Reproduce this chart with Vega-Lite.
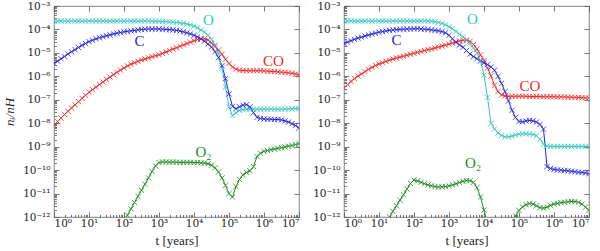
{
  "$schema": "https://vega.github.io/schema/vega-lite/v6.json",
  "background": "white",
  "padding": {"left": 2, "top": 0, "right": 0, "bottom": 0},
  "autosize": {"type": "pad"},
  "spacing": 7,
  "config": {
    "view": {"stroke": "#999999", "strokeWidth": 1.2},
    "font": "Liberation Serif",
    "axis": {"domain": false, "grid": false, "tickColor": "#555555", "tickWidth": 0.8, "labelFont": "DejaVu Serif", "labelFontSize": 10.5, "labelColor": "#222222", "titleFont": "Liberation Serif", "titleFontSize": 13, "titleFontWeight": "normal", "titleColor": "#222222"}
  },
  "datasets": {
    "curves": [
      {"p":"a","t":0.0,"O":-3.64,"C":-5.45,"CO":-8.09,"O2":-13},
      {"p":"a","t":0.1,"O":-3.64,"C":-5.35,"CO":-7.93,"O2":-13},
      {"p":"a","t":0.2,"O":-3.64,"C":-5.25,"CO":-7.78,"O2":-13},
      {"p":"a","t":0.3,"O":-3.64,"C":-5.15,"CO":-7.63,"O2":-13},
      {"p":"a","t":0.4,"O":-3.64,"C":-5.05,"CO":-7.49,"O2":-13},
      {"p":"a","t":0.5,"O":-3.64,"C":-4.95,"CO":-7.35,"O2":-13},
      {"p":"a","t":0.6,"O":-3.64,"C":-4.86,"CO":-7.22,"O2":-13},
      {"p":"a","t":0.7,"O":-3.64,"C":-4.77,"CO":-7.08,"O2":-13},
      {"p":"a","t":0.8,"O":-3.64,"C":-4.68,"CO":-6.94,"O2":-13},
      {"p":"a","t":0.9,"O":-3.64,"C":-4.60,"CO":-6.81,"O2":-13},
      {"p":"a","t":1.0,"O":-3.64,"C":-4.52,"CO":-6.68,"O2":-13},
      {"p":"a","t":1.1,"O":-3.64,"C":-4.46,"CO":-6.57,"O2":-13},
      {"p":"a","t":1.2,"O":-3.64,"C":-4.40,"CO":-6.46,"O2":-13},
      {"p":"a","t":1.3,"O":-3.64,"C":-4.35,"CO":-6.35,"O2":-13},
      {"p":"a","t":1.4,"O":-3.64,"C":-4.31,"CO":-6.24,"O2":-13},
      {"p":"a","t":1.5,"O":-3.64,"C":-4.27,"CO":-6.13,"O2":-13},
      {"p":"a","t":1.6,"O":-3.64,"C":-4.23,"CO":-6.03,"O2":-13},
      {"p":"a","t":1.7,"O":-3.64,"C":-4.19,"CO":-5.93,"O2":-13},
      {"p":"a","t":1.8,"O":-3.64,"C":-4.16,"CO":-5.83,"O2":-12.7},
      {"p":"a","t":1.9,"O":-3.64,"C":-4.13,"CO":-5.73,"O2":-12.45},
      {"p":"a","t":2.0,"O":-3.64,"C":-4.10,"CO":-5.64,"O2":-12.2},
      {"p":"a","t":2.1,"O":-3.64,"C":-4.08,"CO":-5.56,"O2":-11.92},
      {"p":"a","t":2.2,"O":-3.64,"C":-4.06,"CO":-5.48,"O2":-11.65},
      {"p":"a","t":2.3,"O":-3.64,"C":-4.04,"CO":-5.42,"O2":-11.38},
      {"p":"a","t":2.4,"O":-3.64,"C":-4.02,"CO":-5.36,"O2":-11.12},
      {"p":"a","t":2.5,"O":-3.64,"C":-4.00,"CO":-5.30,"O2":-10.86},
      {"p":"a","t":2.6,"O":-3.64,"C":-3.99,"CO":-5.26,"O2":-10.6},
      {"p":"a","t":2.7,"O":-3.64,"C":-3.98,"CO":-5.21,"O2":-10.33},
      {"p":"a","t":2.8,"O":-3.65,"C":-3.98,"CO":-5.16,"O2":-10.06},
      {"p":"a","t":2.9,"O":-3.65,"C":-3.98,"CO":-5.12,"O2":-9.82},
      {"p":"a","t":3.0,"O":-3.65,"C":-3.98,"CO":-5.08,"O2":-9.68},
      {"p":"a","t":3.1,"O":-3.66,"C":-3.99,"CO":-5.02,"O2":-9.65},
      {"p":"a","t":3.2,"O":-3.67,"C":-4.00,"CO":-4.96,"O2":-9.65},
      {"p":"a","t":3.3,"O":-3.68,"C":-4.01,"CO":-4.90,"O2":-9.66},
      {"p":"a","t":3.4,"O":-3.69,"C":-4.02,"CO":-4.84,"O2":-9.66},
      {"p":"a","t":3.5,"O":-3.70,"C":-4.04,"CO":-4.78,"O2":-9.66},
      {"p":"a","t":3.6,"O":-3.72,"C":-4.07,"CO":-4.72,"O2":-9.67},
      {"p":"a","t":3.7,"O":-3.74,"C":-4.10,"CO":-4.66,"O2":-9.67},
      {"p":"a","t":3.8,"O":-3.77,"C":-4.14,"CO":-4.60,"O2":-9.67},
      {"p":"a","t":3.9,"O":-3.81,"C":-4.19,"CO":-4.54,"O2":-9.67},
      {"p":"a","t":4.0,"O":-3.86,"C":-4.25,"CO":-4.48,"O2":-9.68},
      {"p":"a","t":4.1,"O":-3.93,"C":-4.32,"CO":-4.43,"O2":-9.68},
      {"p":"a","t":4.2,"O":-4.02,"C":-4.40,"CO":-4.40,"O2":-9.69},
      {"p":"a","t":4.3,"O":-4.12,"C":-4.50,"CO":-4.40,"O2":-9.70},
      {"p":"a","t":4.4,"O":-4.25,"C":-4.62,"CO":-4.45,"O2":-9.73},
      {"p":"a","t":4.5,"O":-4.42,"C":-4.75,"CO":-4.58,"O2":-9.79},
      {"p":"a","t":4.6,"O":-4.65,"C":-4.95,"CO":-4.72,"O2":-9.90},
      {"p":"a","t":4.7,"O":-5.00,"C":-5.20,"CO":-4.88,"O2":-10.08},
      {"p":"a","t":4.8,"O":-5.65,"C":-5.55,"CO":-5.06,"O2":-10.33},
      {"p":"a","t":4.9,"O":-6.45,"C":-6.10,"CO":-5.27,"O2":-10.65},
      {"p":"a","t":5.0,"O":-7.30,"C":-6.75,"CO":-5.45,"O2":-11.0},
      {"p":"a","t":5.1,"O":-7.68,"C":-7.28,"CO":-5.60,"O2":-11.15},
      {"p":"a","t":5.2,"O":-7.55,"C":-7.38,"CO":-5.70,"O2":-10.7},
      {"p":"a","t":5.3,"O":-7.45,"C":-7.30,"CO":-5.74,"O2":-10.4},
      {"p":"a","t":5.4,"O":-7.42,"C":-7.23,"CO":-5.75,"O2":-10.2},
      {"p":"a","t":5.5,"O":-7.40,"C":-7.21,"CO":-5.76,"O2":-10.1},
      {"p":"a","t":5.6,"O":-7.40,"C":-7.30,"CO":-5.76,"O2":-10.03},
      {"p":"a","t":5.7,"O":-7.40,"C":-7.55,"CO":-5.76,"O2":-9.85},
      {"p":"a","t":5.8,"O":-7.40,"C":-7.75,"CO":-5.76,"O2":-9.42},
      {"p":"a","t":5.9,"O":-7.40,"C":-7.80,"CO":-5.76,"O2":-9.28},
      {"p":"a","t":6.0,"O":-7.40,"C":-7.82,"CO":-5.77,"O2":-9.2},
      {"p":"a","t":6.1,"O":-7.40,"C":-7.83,"CO":-5.78,"O2":-9.16},
      {"p":"a","t":6.2,"O":-7.40,"C":-7.83,"CO":-5.79,"O2":-9.13},
      {"p":"a","t":6.3,"O":-7.40,"C":-7.84,"CO":-5.80,"O2":-9.1},
      {"p":"a","t":6.4,"O":-7.40,"C":-7.84,"CO":-5.81,"O2":-9.07},
      {"p":"a","t":6.5,"O":-7.40,"C":-7.86,"CO":-5.82,"O2":-9.04},
      {"p":"a","t":6.6,"O":-7.40,"C":-7.90,"CO":-5.83,"O2":-9.01},
      {"p":"a","t":6.7,"O":-7.39,"C":-7.95,"CO":-5.85,"O2":-8.98},
      {"p":"a","t":6.8,"O":-7.39,"C":-8.02,"CO":-5.87,"O2":-8.95},
      {"p":"a","t":6.9,"O":-7.38,"C":-8.10,"CO":-5.90,"O2":-8.91},
      {"p":"a","t":7.0,"O":-7.38,"C":-8.20,"CO":-5.93,"O2":-8.87},
      {"p":"b","t":0.0,"O":-3.64,"C":-4.60,"CO":-6.50,"O2":-13},
      {"p":"b","t":0.1,"O":-3.64,"C":-4.54,"CO":-6.35,"O2":-13},
      {"p":"b","t":0.2,"O":-3.64,"C":-4.48,"CO":-6.22,"O2":-13},
      {"p":"b","t":0.3,"O":-3.64,"C":-4.42,"CO":-6.10,"O2":-13},
      {"p":"b","t":0.4,"O":-3.64,"C":-4.37,"CO":-5.99,"O2":-13},
      {"p":"b","t":0.5,"O":-3.64,"C":-4.33,"CO":-5.90,"O2":-13},
      {"p":"b","t":0.6,"O":-3.64,"C":-4.28,"CO":-5.80,"O2":-13},
      {"p":"b","t":0.7,"O":-3.64,"C":-4.24,"CO":-5.70,"O2":-13},
      {"p":"b","t":0.8,"O":-3.64,"C":-4.20,"CO":-5.62,"O2":-13},
      {"p":"b","t":0.9,"O":-3.64,"C":-4.16,"CO":-5.54,"O2":-13},
      {"p":"b","t":1.0,"O":-3.64,"C":-4.12,"CO":-5.47,"O2":-12.7},
      {"p":"b","t":1.1,"O":-3.64,"C":-4.09,"CO":-5.42,"O2":-12.48},
      {"p":"b","t":1.2,"O":-3.64,"C":-4.06,"CO":-5.36,"O2":-12.24},
      {"p":"b","t":1.3,"O":-3.64,"C":-4.04,"CO":-5.31,"O2":-12.0},
      {"p":"b","t":1.4,"O":-3.64,"C":-4.02,"CO":-5.26,"O2":-11.76},
      {"p":"b","t":1.5,"O":-3.64,"C":-4.01,"CO":-5.22,"O2":-11.52},
      {"p":"b","t":1.6,"O":-3.64,"C":-4.00,"CO":-5.18,"O2":-11.28},
      {"p":"b","t":1.7,"O":-3.64,"C":-3.99,"CO":-5.14,"O2":-11.05},
      {"p":"b","t":1.8,"O":-3.64,"C":-3.98,"CO":-5.10,"O2":-10.8},
      {"p":"b","t":1.9,"O":-3.64,"C":-3.98,"CO":-5.06,"O2":-10.57},
      {"p":"b","t":2.0,"O":-3.64,"C":-3.97,"CO":-5.02,"O2":-10.42},
      {"p":"b","t":2.1,"O":-3.64,"C":-3.97,"CO":-4.98,"O2":-10.46},
      {"p":"b","t":2.2,"O":-3.64,"C":-3.98,"CO":-4.94,"O2":-10.52},
      {"p":"b","t":2.3,"O":-3.64,"C":-3.99,"CO":-4.90,"O2":-10.58},
      {"p":"b","t":2.4,"O":-3.64,"C":-4.00,"CO":-4.86,"O2":-10.63},
      {"p":"b","t":2.5,"O":-3.65,"C":-4.02,"CO":-4.83,"O2":-10.67},
      {"p":"b","t":2.6,"O":-3.67,"C":-4.04,"CO":-4.79,"O2":-10.7},
      {"p":"b","t":2.7,"O":-3.70,"C":-4.06,"CO":-4.75,"O2":-10.72},
      {"p":"b","t":2.8,"O":-3.74,"C":-4.09,"CO":-4.71,"O2":-10.72},
      {"p":"b","t":2.9,"O":-3.80,"C":-4.14,"CO":-4.67,"O2":-10.7},
      {"p":"b","t":3.0,"O":-3.88,"C":-4.25,"CO":-4.63,"O2":-10.67},
      {"p":"b","t":3.1,"O":-3.97,"C":-4.40,"CO":-4.58,"O2":-10.63},
      {"p":"b","t":3.2,"O":-4.08,"C":-4.55,"CO":-4.53,"O2":-10.58},
      {"p":"b","t":3.3,"O":-4.20,"C":-4.66,"CO":-4.49,"O2":-10.53},
      {"p":"b","t":3.4,"O":-4.32,"C":-4.76,"CO":-4.46,"O2":-10.48},
      {"p":"b","t":3.5,"O":-4.45,"C":-4.90,"CO":-4.46,"O2":-10.45},
      {"p":"b","t":3.6,"O":-4.60,"C":-5.05,"CO":-4.51,"O2":-10.45},
      {"p":"b","t":3.7,"O":-4.78,"C":-5.16,"CO":-4.64,"O2":-10.52},
      {"p":"b","t":3.8,"O":-5.00,"C":-5.25,"CO":-4.84,"O2":-10.75},
      {"p":"b","t":3.9,"O":-5.35,"C":-5.34,"CO":-5.08,"O2":-11.15},
      {"p":"b","t":4.0,"O":-5.95,"C":-5.42,"CO":-5.33,"O2":-11.7},
      {"p":"b","t":4.1,"O":-6.90,"C":-5.50,"CO":-5.65,"O2":-12.3},
      {"p":"b","t":4.2,"O":-8.00,"C":-5.60,"CO":-5.98,"O2":-13},
      {"p":"b","t":4.3,"O":-8.25,"C":-5.74,"CO":-6.38,"O2":-13},
      {"p":"b","t":4.4,"O":-8.42,"C":-6.00,"CO":-6.65,"O2":-13},
      {"p":"b","t":4.5,"O":-8.52,"C":-6.30,"CO":-6.80,"O2":-13},
      {"p":"b","t":4.6,"O":-8.58,"C":-6.65,"CO":-6.84,"O2":-13},
      {"p":"b","t":4.7,"O":-8.58,"C":-7.05,"CO":-6.85,"O2":-13},
      {"p":"b","t":4.8,"O":-8.55,"C":-7.45,"CO":-6.85,"O2":-12.25},
      {"p":"b","t":4.9,"O":-8.50,"C":-7.75,"CO":-6.85,"O2":-11.95},
      {"p":"b","t":5.0,"O":-8.47,"C":-7.93,"CO":-6.85,"O2":-11.72},
      {"p":"b","t":5.1,"O":-8.45,"C":-7.94,"CO":-6.85,"O2":-11.57},
      {"p":"b","t":5.2,"O":-8.45,"C":-7.90,"CO":-6.85,"O2":-11.47},
      {"p":"b","t":5.3,"O":-8.46,"C":-7.88,"CO":-6.86,"O2":-11.43},
      {"p":"b","t":5.4,"O":-8.48,"C":-7.90,"CO":-6.86,"O2":-11.45},
      {"p":"b","t":5.5,"O":-8.53,"C":-7.95,"CO":-6.86,"O2":-11.52},
      {"p":"b","t":5.6,"O":-8.68,"C":-8.05,"CO":-6.86,"O2":-11.6},
      {"p":"b","t":5.7,"O":-8.90,"C":-8.25,"CO":-6.87,"O2":-11.62},
      {"p":"b","t":5.8,"O":-8.97,"C":-9.85,"CO":-6.87,"O2":-11.58},
      {"p":"b","t":5.9,"O":-8.99,"C":-9.93,"CO":-6.87,"O2":-11.5},
      {"p":"b","t":6.0,"O":-8.99,"C":-9.97,"CO":-6.87,"O2":-11.45},
      {"p":"b","t":6.1,"O":-8.99,"C":-9.99,"CO":-6.88,"O2":-11.42},
      {"p":"b","t":6.2,"O":-8.99,"C":-10.00,"CO":-6.88,"O2":-11.39},
      {"p":"b","t":6.3,"O":-8.99,"C":-10.02,"CO":-6.88,"O2":-11.37},
      {"p":"b","t":6.4,"O":-8.99,"C":-10.03,"CO":-6.89,"O2":-11.35},
      {"p":"b","t":6.5,"O":-8.99,"C":-10.05,"CO":-6.89,"O2":-11.34},
      {"p":"b","t":6.6,"O":-8.99,"C":-10.07,"CO":-6.90,"O2":-11.34},
      {"p":"b","t":6.7,"O":-8.99,"C":-10.09,"CO":-6.90,"O2":-11.37},
      {"p":"b","t":6.8,"O":-8.99,"C":-10.10,"CO":-6.91,"O2":-11.45},
      {"p":"b","t":6.9,"O":-8.99,"C":-10.12,"CO":-6.92,"O2":-11.58},
      {"p":"b","t":7.0,"O":-8.99,"C":-10.15,"CO":-6.92,"O2":-11.72}
    ],
    "labels": [
      {"p":"a","t":4.41,"v":-3.58,"s":"O","sp":"O"},
      {"p":"a","t":2.44,"v":-4.48,"s":"C","sp":"C"},
      {"p":"a","t":6.27,"v":-5.33,"s":"CO","sp":"CO"},
      {"p":"a","t":4.27,"v":-9.22,"s":"O₂","sp":"O2"},
      {"p":"b","t":3.67,"v":-3.54,"s":"O","sp":"O"},
      {"p":"b","t":1.5,"v":-4.47,"s":"C","sp":"C"},
      {"p":"b","t":5.31,"v":-6.41,"s":"CO","sp":"CO"},
      {"p":"b","t":3.69,"v":-9.69,"s":"O₂","sp":"O2"}
    ]
  },
  "hconcat": [
    {
      "width": 245, "height": 211,
      "layer": [
        {
          "data": {"name": "curves"},
          "transform": [{"filter": "datum.p == 'a'"}, {"fold": ["CO", "C", "O", "O2"], "as": ["sp", "v"]}],
          "mark": {"type": "line", "clip": true, "strokeWidth": 1},
          "encoding": {
            "x": {"field": "t", "type": "quantitative", "scale": {"domain": [0, 7], "nice": false, "zero": false},
                  "axis": {"orient": "bottom", "values": [0,1,2,3,4,5,6,7], "tickSize": -5, "labelPadding": 6, "minExtent": 16, "maxExtent": 16, "title": "t [years]", "titlePadding": 1,
                           "labelExpr": "'10' + ['⁰','¹','²','³','⁴','⁵','⁶','⁷'][datum.value]"}},
            "y": {"field": "v", "type": "quantitative", "scale": {"domain": [-12, -3], "nice": false, "zero": false},
                  "axis": {"orient": "left", "values": [-12,-11,-10,-9,-8,-7,-6,-5,-4,-3], "tickSize": -5, "labelPadding": 9, "minExtent": 36, "maxExtent": 36, "title": "nᵢ/nH", "titleFontStyle": "italic", "titlePadding": 2,
                           "labelExpr": "'10⁻' + ['','','','³','⁴','⁵','⁶','⁷','⁸','⁹','¹⁰','¹¹','¹²'][-datum.value]"}},
            "color": {"field": "sp", "type": "nominal", "scale": {"domain": ["O", "C", "CO", "O2"], "range": ["#33c4c4", "#2323e6", "#f02828", "#1e8c1e"]}, "legend": null}
          }
        },
        {
          "data": {"name": "curves"},
          "transform": [{"filter": "datum.p == 'a'"}, {"fold": ["CO", "C", "O", "O2"], "as": ["sp", "v"]}],
          "mark": {"type": "point", "clip": true, "shape": "M-1,-1L1,1M1,-1L-1,1", "filled": false, "size": 28, "strokeWidth": 0.8, "opacity": 1},
          "encoding": {
            "x": {"field": "t", "type": "quantitative", "axis": {"orient": "top", "values": [0,1,2,3,4,5,6,7], "tickSize": -5, "labels": false, "title": null, "minExtent": 0, "maxExtent": 0}},
            "y": {"field": "v", "type": "quantitative", "axis": {"orient": "right", "values": [-12,-11,-10,-9,-8,-7,-6,-5,-4,-3], "tickSize": -5, "labels": false, "title": null, "minExtent": 0, "maxExtent": 0}},
            "color": {"field": "sp", "type": "nominal", "legend": null}
          }
        },
        {
          "data": {"name": "labels"},
          "transform": [{"filter": "datum.p == 'a'"}],
          "mark": {"type": "text", "fontSize": 15, "font": "Liberation Serif", "align": "center", "baseline": "middle"},
          "encoding": {
            "x": {"field": "t", "type": "quantitative", "axis": {"orient": "bottom", "values": [0.30103,0.47712,0.60206,0.69897,0.77815,0.8451,0.90309,0.95424,1.30103,1.47712,1.60206,1.69897,1.77815,1.8451,1.90309,1.95424,2.30103,2.47712,2.60206,2.69897,2.77815,2.8451,2.90309,2.95424,3.30103,3.47712,3.60206,3.69897,3.77815,3.8451,3.90309,3.95424,4.30103,4.47712,4.60206,4.69897,4.77815,4.8451,4.90309,4.95424,5.30103,5.47712,5.60206,5.69897,5.77815,5.8451,5.90309,5.95424,6.30103,6.47712,6.60206,6.69897,6.77815,6.8451,6.90309,6.95424], "tickSize": -2.5, "labels": false, "title": null, "minExtent": 0, "maxExtent": 0}},
            "y": {"field": "v", "type": "quantitative", "axis": {"orient": "left", "values": [-11.69897,-11.52288,-11.39794,-11.30103,-11.22185,-11.1549,-11.09691,-11.04576,-10.69897,-10.52288,-10.39794,-10.30103,-10.22185,-10.1549,-10.09691,-10.04576,-9.69897,-9.52288,-9.39794,-9.30103,-9.22185,-9.1549,-9.09691,-9.04576,-8.69897,-8.52288,-8.39794,-8.30103,-8.22185,-8.1549,-8.09691,-8.04576,-7.69897,-7.52288,-7.39794,-7.30103,-7.22185,-7.1549,-7.09691,-7.04576,-6.69897,-6.52288,-6.39794,-6.30103,-6.22185,-6.1549,-6.09691,-6.04576,-5.69897,-5.52288,-5.39794,-5.30103,-5.22185,-5.1549,-5.09691,-5.04576,-4.69897,-4.52288,-4.39794,-4.30103,-4.22185,-4.1549,-4.09691,-4.04576,-3.69897,-3.52288,-3.39794,-3.30103,-3.22185,-3.1549,-3.09691,-3.04576], "tickSize": -2.5, "labels": false, "title": null, "minExtent": 0, "maxExtent": 0}},
            "text": {"field": "s"},
            "color": {"field": "sp", "type": "nominal", "legend": null}
          }
        }
      ],
      "resolve": {"axis": {"x": "independent", "y": "independent"}}
    },
    {
      "width": 245, "height": 211,
      "layer": [
        {
          "data": {"name": "curves"},
          "transform": [{"filter": "datum.p == 'b'"}, {"fold": ["CO", "C", "O", "O2"], "as": ["sp", "v"]}],
          "mark": {"type": "line", "clip": true, "strokeWidth": 1},
          "encoding": {
            "x": {"field": "t", "type": "quantitative", "scale": {"domain": [0, 7], "nice": false, "zero": false},
                  "axis": {"orient": "bottom", "values": [0,1,2,3,4,5,6,7], "tickSize": -5, "labelPadding": 6, "minExtent": 16, "maxExtent": 16, "title": "t [years]", "titlePadding": 1,
                           "labelExpr": "'10' + ['⁰','¹','²','³','⁴','⁵','⁶','⁷'][datum.value]"}},
            "y": {"field": "v", "type": "quantitative", "scale": {"domain": [-12, -3], "nice": false, "zero": false},
                  "axis": {"orient": "left", "values": [-12,-11,-10,-9,-8,-7,-6,-5,-4,-3], "tickSize": -5, "labelPadding": 9, "minExtent": 36, "maxExtent": 36, "title": null,
                           "labelExpr": "'10⁻' + ['','','','³','⁴','⁵','⁶','⁷','⁸','⁹','¹⁰','¹¹','¹²'][-datum.value]"}},
            "color": {"field": "sp", "type": "nominal", "scale": {"domain": ["O", "C", "CO", "O2"], "range": ["#33c4c4", "#2323e6", "#f02828", "#1e8c1e"]}, "legend": null}
          }
        },
        {
          "data": {"name": "curves"},
          "transform": [{"filter": "datum.p == 'b'"}, {"fold": ["CO", "C", "O", "O2"], "as": ["sp", "v"]}],
          "mark": {"type": "point", "clip": true, "shape": "M-1,-1L1,1M1,-1L-1,1", "filled": false, "size": 28, "strokeWidth": 0.8, "opacity": 1},
          "encoding": {
            "x": {"field": "t", "type": "quantitative", "axis": {"orient": "top", "values": [0,1,2,3,4,5,6,7], "tickSize": -5, "labels": false, "title": null, "minExtent": 0, "maxExtent": 0}},
            "y": {"field": "v", "type": "quantitative", "axis": {"orient": "right", "values": [-12,-11,-10,-9,-8,-7,-6,-5,-4,-3], "tickSize": -5, "labels": false, "title": null, "minExtent": 0, "maxExtent": 0}},
            "color": {"field": "sp", "type": "nominal", "legend": null}
          }
        },
        {
          "data": {"name": "labels"},
          "transform": [{"filter": "datum.p == 'b'"}],
          "mark": {"type": "text", "fontSize": 15, "font": "Liberation Serif", "align": "center", "baseline": "middle"},
          "encoding": {
            "x": {"field": "t", "type": "quantitative", "axis": {"orient": "bottom", "values": [0.30103,0.47712,0.60206,0.69897,0.77815,0.8451,0.90309,0.95424,1.30103,1.47712,1.60206,1.69897,1.77815,1.8451,1.90309,1.95424,2.30103,2.47712,2.60206,2.69897,2.77815,2.8451,2.90309,2.95424,3.30103,3.47712,3.60206,3.69897,3.77815,3.8451,3.90309,3.95424,4.30103,4.47712,4.60206,4.69897,4.77815,4.8451,4.90309,4.95424,5.30103,5.47712,5.60206,5.69897,5.77815,5.8451,5.90309,5.95424,6.30103,6.47712,6.60206,6.69897,6.77815,6.8451,6.90309,6.95424], "tickSize": -2.5, "labels": false, "title": null, "minExtent": 0, "maxExtent": 0}},
            "y": {"field": "v", "type": "quantitative", "axis": {"orient": "left", "values": [-11.69897,-11.52288,-11.39794,-11.30103,-11.22185,-11.1549,-11.09691,-11.04576,-10.69897,-10.52288,-10.39794,-10.30103,-10.22185,-10.1549,-10.09691,-10.04576,-9.69897,-9.52288,-9.39794,-9.30103,-9.22185,-9.1549,-9.09691,-9.04576,-8.69897,-8.52288,-8.39794,-8.30103,-8.22185,-8.1549,-8.09691,-8.04576,-7.69897,-7.52288,-7.39794,-7.30103,-7.22185,-7.1549,-7.09691,-7.04576,-6.69897,-6.52288,-6.39794,-6.30103,-6.22185,-6.1549,-6.09691,-6.04576,-5.69897,-5.52288,-5.39794,-5.30103,-5.22185,-5.1549,-5.09691,-5.04576,-4.69897,-4.52288,-4.39794,-4.30103,-4.22185,-4.1549,-4.09691,-4.04576,-3.69897,-3.52288,-3.39794,-3.30103,-3.22185,-3.1549,-3.09691,-3.04576], "tickSize": -2.5, "labels": false, "title": null, "minExtent": 0, "maxExtent": 0}},
            "text": {"field": "s"},
            "color": {"field": "sp", "type": "nominal", "legend": null}
          }
        }
      ],
      "resolve": {"axis": {"x": "independent", "y": "independent"}}
    }
  ]
}
